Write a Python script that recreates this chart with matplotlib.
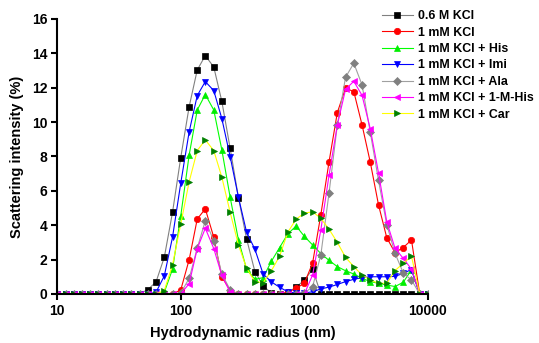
import matplotlib
matplotlib.use("Agg")
import matplotlib.pyplot as plt

plt.rcParams['font.family'] = ['Liberation Sans', 'DejaVu Sans']
plt.rcParams['font.weight'] = 'bold'

# Hydrodynamic radius bins (nm)
radius = [10, 11.7, 13.6, 15.8, 18.5, 21.5, 25.1, 29.3, 34.1, 39.8, 46.4, 54.1,
          63.1, 73.6, 85.8, 100, 117, 136, 158, 185, 215, 251, 293, 341, 398,
          464, 541, 631, 736, 858, 1000, 1166, 1359, 1585, 1848, 2154, 2512,
          2929, 3415, 3981, 4642, 5412, 6310, 7356, 8577, 10000]

def pad(vals, start):
    # vals given for consecutive bins from index `start`; zeros elsewhere
    out = [0.0] * len(radius)
    for k, v in enumerate(vals):
        out[start + k] = v
    return out

kcl_06M = pad([0.25, 0.7, 2.13, 4.75, 7.93, 10.9, 13.03, 13.86, 13.2, 11.2, 8.47,
               5.6, 3.2, 1.3, 0.47, 0.05, 0.0, 0.08, 0.4, 0.8, 1.44, 0.0], 11)
kcl_1mM = pad([0.23, 2.0, 4.36, 4.95, 3.3, 1.0, 0.2, 0, 0, 0, 0, 0, 0, 0.1, 0.33,
               0.62, 1.8, 4.6, 7.7, 10.55, 11.97, 11.77, 9.83, 7.66, 5.18, 3.27,
               2.4, 2.7, 3.14, 0.0], 15)
kcl_his = pad([0.1, 1.44, 4.54, 8.09, 10.7, 11.6, 10.7, 8.38, 5.62, 3.14, 1.44,
               0.85, 0.95, 1.9, 2.7, 3.5, 3.95, 3.35, 2.85, 2.35, 1.95, 1.59,
               1.35, 1.16, 0.91, 0.72, 0.62, 0.52, 0.43, 0.68, 1.4, 0.0], 13)
kcl_imi = pad([0.1, 1.05, 3.3, 6.44, 9.44, 11.54, 12.35, 11.83, 10.2, 7.99, 5.62,
               3.59, 2.6, 1.16, 0.7, 0.39, 0.12, 0.05, 0.05, 0.13, 0.29, 0.4,
               0.55, 0.72, 0.85, 0.95, 1.0, 1.0, 1.0, 1.02, 1.2, 1.42, 0.0], 12)
kcl_ala = pad([0.05, 0.91, 2.66, 4.26, 3.1, 1.16, 0.25, 0, 0, 0, 0, 0, 0, 0, 0,
               0.05, 0.42, 2.27, 5.89, 9.83, 12.6, 13.42, 12.16, 9.4, 6.6, 4.03,
               2.37, 1.22, 0.81, 0.0], 15)
kcl_mhis = pad([0.6, 2.64, 3.82, 2.64, 1.08, 0.1, 0, 0, 0, 0, 0, 0, 0, 0, 0,
                1.1, 3.72, 6.92, 9.83, 11.9, 12.37, 11.55, 9.6, 7.04, 4.2, 2.66,
                2.07, 1.44, 0.0], 16)
kcl_car = pad([0.2, 1.69, 4.07, 6.53, 8.34, 8.96, 8.34, 6.79, 4.75, 2.85, 1.5,
               0.72, 0.65, 1.35, 2.2, 3.6, 4.35, 4.7, 4.78, 4.4, 3.76, 3.0, 2.13,
               1.59, 1.1, 0.81, 0.62, 0.62, 1.36, 1.78, 2.2, 0.0], 13)

labels = ["0.6 M KCl", "1 mM KCl", "1 mM KCl + His", "1 mM KCl + Imi",
          "1 mM KCl + Ala", "1 mM KCl + 1-M-His", "1 mM KCl + Car"]
series = [kcl_06M, kcl_1mM, kcl_his, kcl_imi, kcl_ala, kcl_mhis, kcl_car]
line_colors = ["#808080", "#ff0000", "#00ff00", "#0000ff", "#a0a0a0", "#ff00ff", "#ffff00"]
marker_colors = ["#000000", "#ff0000", "#00ee00", "#0000ff", "#808080", "#ff00ff", "#008000"]
markers = ["s", "o", "^", "v", "D", "<", ">"]
msizes = [4.2, 4.6, 5.0, 5.0, 3.8, 5.0, 5.0]

fig = plt.figure(figsize=(5.39, 3.43), dpi=100)
ax = fig.add_axes([0.106, 0.143, 0.688, 0.802])

for y, lab, lc, mc, m, ms in zip(series, labels, line_colors, marker_colors, markers, msizes):
    ax.plot(radius, y, color=lc, lw=0.8, marker=m, ms=ms, mfc=mc, mec=mc,
            mew=0.5, label=lab)

ax.set_xscale('log')
ax.set_xlim(10, 10000)
ax.set_ylim(0, 16)
ax.set_yticks(range(0, 17, 2))
ax.set_xticks([10, 100, 1000, 10000])
ax.set_xticklabels(["10", "100", "1000", "10000"])
ax.xaxis.set_minor_locator(matplotlib.ticker.NullLocator())
for s in ['top', 'right']:
    ax.spines[s].set_visible(False)
for s in ['left', 'bottom']:
    ax.spines[s].set_linewidth(1.5)
ax.tick_params(axis='both', which='major', width=1.5, length=4, labelsize=10,
               direction='out', pad=3)
for t in ax.get_xticklabels() + ax.get_yticklabels():
    t.set_fontweight('bold')

ax.set_xlabel("Hydrodynamic radius (nm)", fontsize=10.5, fontweight='bold', labelpad=6)
ax.set_ylabel("Scattering intensity (%)", fontsize=10.5, fontweight='bold', labelpad=6)

leg = ax.legend(loc='upper left', bbox_to_anchor=(0.862, 1.05), frameon=False,
                fontsize=8.9, handlelength=2.5, handletextpad=0.45,
                labelspacing=0.36, borderaxespad=0)
for t in leg.get_texts():
    t.set_fontweight('bold')

fig.savefig("out.png", dpi=100)
